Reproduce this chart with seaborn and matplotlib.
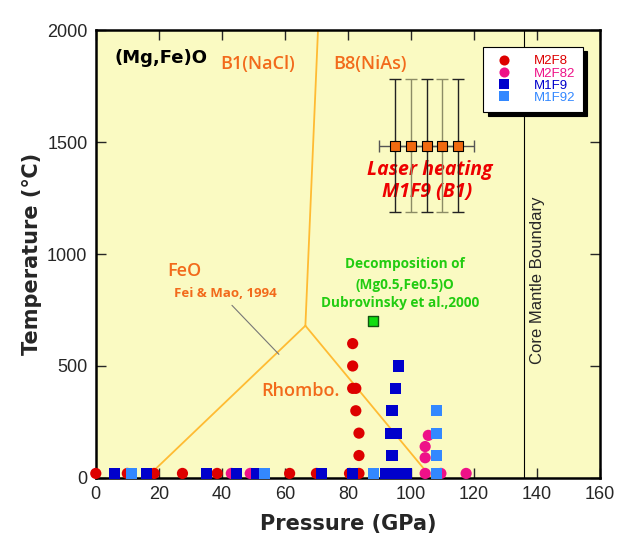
import pandas as pd
import seaborn as sns
import matplotlib.pyplot as plt

# sample data (pressure GPa, temperature C)
m2f8_p = [0, 10, 18.5, 27.5, 38.5, 61.5, 70, 80.5, 83.5, 81.5, 81.5, 81.5, 82.5, 82.5, 83.5, 83.5]
m2f8_t = [20, 20, 20, 20, 20, 20, 20, 20, 20, 600, 500, 400, 400, 300, 200, 100]
m2f82_p = [43, 49, 104.5, 109.5, 117.5, 104.5, 104.5, 105.5]
m2f82_t = [20, 20, 20, 20, 20, 140, 90, 190]
m1f9_p = [6, 16, 35, 44.7, 51, 71.5, 81.5, 92, 95, 98.5, 96, 95, 94, 93.5, 95.5, 94]
m1f9_t = [20, 20, 20, 20, 20, 20, 20, 20, 20, 20, 500, 400, 300, 200, 200, 100]
m1f92_p = [11.4, 53.5, 88, 108, 108, 108, 108]
m1f92_t = [20, 20, 20, 20, 300, 200, 100]

# laser heating runs
laser_p = [95, 100, 105, 110, 115]
laser_t = [1485, 1485, 1485, 1485, 1485]
laser_terr = 295
laser_perr = 5

# Dubrovinsky decomposition point
dub_p = [88]
dub_t = [700]

# FeO phase boundaries (Fei & Mao 1994)
b1b8_p = [66.5, 70.5]
b1b8_t = [680, 2000]
b1rh_p = [16, 66.5]
b1rh_t = [0, 680]
rhb8_p = [66.5, 106.5]
rhb8_t = [680, 0]

cmb_p = 136

samples = ['M2F8', 'M2F82', 'M1F9', 'M1F92']
colors = {'M2F8': '#DD0000', 'M2F82': '#EE1188', 'M1F9': '#0000CC', 'M1F92': '#3388FF'}
markers = {'M2F8': 'o', 'M2F82': 'o', 'M1F9': 's', 'M1F92': 's'}

df = pd.concat([
    pd.DataFrame({'P': m2f8_p, 'T': m2f8_t, 'sample': 'M2F8'}),
    pd.DataFrame({'P': m2f82_p, 'T': m2f82_t, 'sample': 'M2F82'}),
    pd.DataFrame({'P': m1f9_p, 'T': m1f9_t, 'sample': 'M1F9'}),
    pd.DataFrame({'P': m1f92_p, 'T': m1f92_t, 'sample': 'M1F92'}),
])

sns.set_style('ticks')
plt.rcParams['font.family'] = ['Liberation Sans', 'DejaVu Sans']

fig = plt.figure(figsize=(6.18, 5.4), dpi=100)
ax = fig.add_axes([0.155, 0.115, 0.816, 0.829])
ax.set_facecolor('#FAFAC2')

# phase boundaries
line_col = '#FFBB33'
for px, ty in [(b1b8_p, b1b8_t), (b1rh_p, b1rh_t), (rhb8_p, rhb8_t)]:
    ax.plot(px, ty, color=line_col, lw=1.3, zorder=1)

ax.axvline(cmb_p, color='black', lw=0.8, zorder=1)

# leader line for Fei & Mao label
ax.plot([43.2, 58.1], [771, 552], color='#777777', lw=0.8, zorder=1)

sns.scatterplot(data=df, x='P', y='T', hue='sample', style='sample',
                hue_order=samples, style_order=samples, palette=colors,
                markers=markers, s=65, edgecolor='none', linewidth=0,
                clip_on=False, zorder=3, ax=ax)

# laser heating runs with error bars
ax.errorbar(laser_p, laser_t, xerr=laser_perr, fmt='none', ecolor='#555555',
            elinewidth=1, capsize=4, zorder=4)
for i, (p, t) in enumerate(zip(laser_p, laser_t)):
    ax.errorbar([p], [t], yerr=laser_terr, fmt='none',
                ecolor='#222222' if i % 2 == 0 else '#8C8C66',
                elinewidth=1, capsize=4, zorder=4)
ax.scatter(laser_p, laser_t, marker='s', s=55, color='#F06A10',
           edgecolor='black', linewidth=0.8, zorder=5)

ax.scatter(dub_p, dub_t, marker='s', s=60, color='#11DD11',
           edgecolor='#115511', linewidth=1, zorder=5)

# text labels
orange = '#F26A1B'
ax.text(6, 1875, '(Mg,Fe)O', fontsize=13, fontweight='bold', color='black',
        family='DejaVu Sans', va='center')
ax.text(51.5, 1848, 'B1(NaCl)', fontsize=13, color=orange, ha='center', va='center',
        family='Open Sans', fontweight='semibold')
ax.text(87, 1848, 'B8(NiAs)', fontsize=13, color=orange, ha='center', va='center',
        family='Open Sans', fontweight='semibold')
ax.text(28, 924, 'FeO', fontsize=13, color=orange, ha='center', va='center',
        family='Open Sans', fontweight='semibold')
ax.text(41, 826, 'Fei & Mao, 1994', fontsize=9.5, color=orange, fontweight='bold',
        ha='center', va='center', family='Open Sans')
ax.text(65, 388, 'Rhombo.', fontsize=13, color=orange, ha='center', va='center',
        family='Open Sans', fontweight='semibold')
ax.text(106, 1375, 'Laser heating', fontsize=14, color='#EE0000', fontweight='bold',
        style='italic', ha='center', va='center', family='Open Sans')
ax.text(105, 1277, 'M1F9 (B1)', fontsize=14, color='#EE0000', fontweight='bold',
        style='italic', ha='center', va='center', family='Open Sans')
green = '#22CC11'
ax.text(98, 955, 'Decomposition of', fontsize=9.8, color=green, fontweight='bold',
        ha='center', va='center', family='Open Sans')
ax.text(98, 862, '(Mg0.5,Fe0.5)O', fontsize=9.8, color=green, fontweight='bold',
        ha='center', va='center', family='Open Sans')
ax.text(96.5, 781, 'Dubrovinsky et al.,2000', fontsize=9.8, color=green, fontweight='bold',
        ha='center', va='center', family='Open Sans')
ax.text(140, 884, 'Core Mantle Boundary', fontsize=12, rotation=90,
        ha='center', va='center')

ax.set_xlim(0, 160)
ax.set_ylim(0, 2000)
ax.set_xticks(range(0, 161, 20))
ax.set_yticks(range(0, 2001, 500))
ax.tick_params(direction='in', top=True, right=True, length=7, width=1,
               labelsize=13, pad=6)
for sp in ax.spines.values():
    sp.set_linewidth(1.8)
    sp.set_color('black')

ax.set_xlabel('Pressure (GPa)', fontsize=15, fontweight='bold', family='DejaVu Sans',
              labelpad=8)
ax.set_ylabel('Temperature (℃)', fontsize=15, fontweight='bold', family='DejaVu Sans')

handles, labels = ax.get_legend_handles_labels()
leg = ax.legend(handles, labels, loc='upper right', bbox_to_anchor=(0.966, 0.962),
                borderaxespad=0, fancybox=False, framealpha=1, edgecolor='black',
                fontsize=9.5, handletextpad=1.2, labelspacing=0.0,
                borderpad=0.6, markerscale=0.9,
                shadow={'color': 'black', 'alpha': 1, 'ox': 3, 'oy': -3})
leg.get_frame().set_linewidth(0.8)
for txt in leg.get_texts():
    txt.set_color(colors[txt.get_text()])

plt.savefig('out.png', dpi=100)
